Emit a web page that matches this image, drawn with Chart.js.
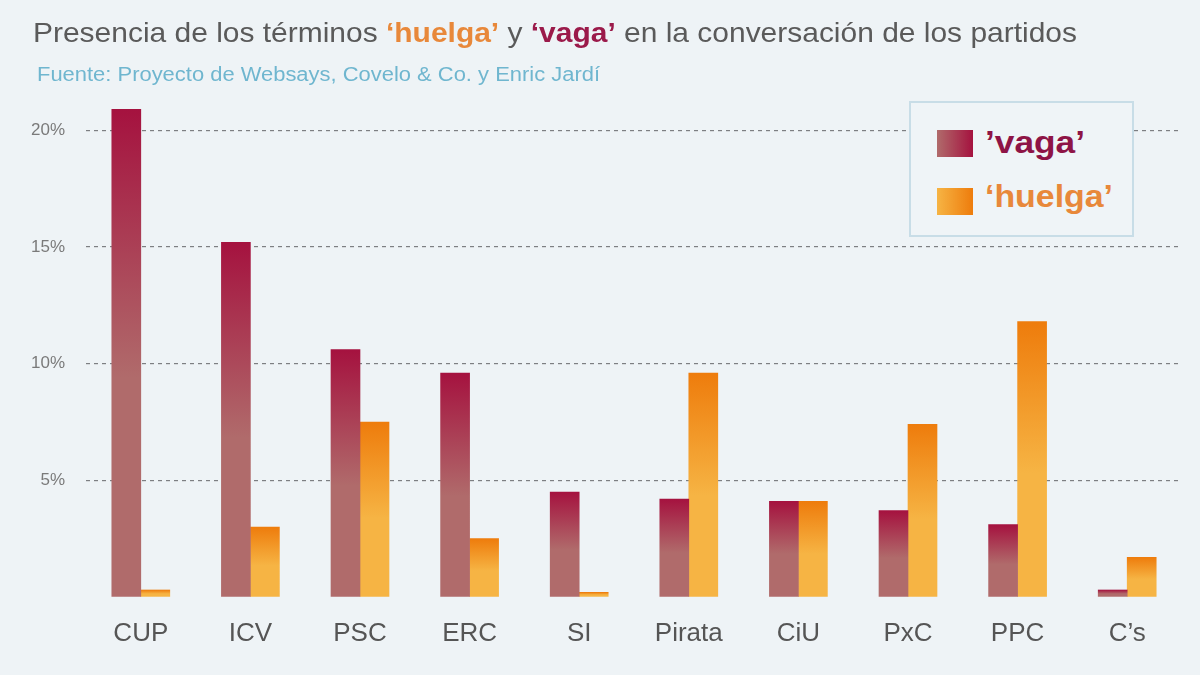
<!DOCTYPE html>
<html>
<head>
<meta charset="utf-8">
<script src="https://cdn.jsdelivr.net/npm/chart.js@4"></script>
<style>
  html, body { margin: 0; padding: 0; }
  body { width: 1200px; height: 675px; background: #eef3f6; font-family: "Liberation Sans", Arial, sans-serif; position: relative; overflow: hidden; }
  #wrap { position: absolute; left: 0; top: 0; width: 1200px; height: 675px; }
  #title { position: absolute; left: 33px; top: 19px; font-size: 28px; line-height: 1; color: #5a5a5a; white-space: nowrap; transform-origin: left top; }
  #title .h { color: #e8883a; font-weight: bold; }
  #title .v { color: #9b1a4a; font-weight: bold; }
  #source { position: absolute; left: 37px; top: 65px; font-size: 19.5px; line-height: 1; color: #6fb6cf; white-space: nowrap; transform-origin: left top; }
  #legend { position: absolute; left: 909px; top: 101px; width: 221px; height: 132px; border: 2px solid #c8dde7; background: #eff4f7; }
  .sw { position: absolute; left: 26px; width: 36px; height: 27px; }
  .lbl { position: absolute; left: 74px; font-size: 31px; line-height: 1; font-weight: bold; white-space: nowrap; transform-origin: left top; }
</style>
</head>
<body>
<div id="wrap"><canvas id="chart" width="1200" height="675"></canvas></div>
<div id="title">Presencia de los términos <span class="h">‘huelga’</span> y <span class="v">‘vaga’</span> en la conversación de los partidos</div>
<div id="source">Fuente: Proyecto de Websays, Covelo &amp; Co. y Enric Jardí</div>
<div id="legend"></div>
<script>
// Data (percent)
const parties = ['CUP', 'ICV', 'PSC', 'ERC', 'SI', 'Pirata', 'CiU', 'PxC', 'PPC', 'C’s'];
const vaga = [20.9, 15.2, 10.6, 9.6, 4.5, 4.2, 4.1, 3.7, 3.1, 0.3];
const huelga = [0.3, 3.0, 7.5, 2.5, 0.2, 9.6, 4.1, 7.4, 11.8, 1.7];
const yTicks = [5, 10, 15, 20];

const seriesLabels = ['’vaga’', '‘huelga’'];
const vagaTop = '#a5123f', vagaBottom = '#b06b6b';
const huelgaTop = '#ee7c0c', huelgaBottom = '#f6b444';
const textColors = ['#8e1446', '#e8883a'];

function barGradient(top, bottom) {
    return function(context) {
        const chart = context.chart;
        const yScale = chart.scales.y;
        if (!yScale || context.raw == null) return bottom;
        const yTop = yScale.getPixelForValue(context.raw);
        const yBase = yScale.getPixelForValue(0);
        if (!isFinite(yTop) || !isFinite(yBase) || yTop === yBase) return bottom;
        const g = chart.ctx.createLinearGradient(0, yTop, 0, yBase);
        g.addColorStop(0, top);
        g.addColorStop(0.55, bottom);
        g.addColorStop(1, bottom);
        return g;
    };
}

const ctx = document.getElementById('chart').getContext('2d');
const chart = new Chart(ctx, {
    type: 'bar',
    data: {
        labels: parties,
        datasets: [{
            label: seriesLabels[0],
            data: vaga,
            backgroundColor: barGradient(vagaTop, vagaBottom),
            barThickness: 29
        }, {
            label: seriesLabels[1],
            data: huelga,
            backgroundColor: barGradient(huelgaTop, huelgaBottom),
            barThickness: 29
        }]
    },
    options: {
        responsive: false,
        animation: false,
        layout: { padding: { top: 107, right: 18, left: 0, bottom: 0 } },
        scales: {
            x: {
                grid: { display: false },
                border: { display: false },
                ticks: {
                    color: '#555',
                    padding: 13,
                    font: { family: 'Liberation Sans', size: 26 }
                },
                afterFit: s => { s.height = 78; }
            },
            y: {
                min: 0,
                max: 21,
                afterBuildTicks: s => { s.ticks = [0].concat(yTicks).map(v => ({ value: v })); },
                afterFit: s => { s.width = 86; },
                grid: {
                    drawTicks: false,
                    color: c => (c.tick && c.tick.value > 0) ? '#7d7f82' : 'rgba(0,0,0,0)',
                    lineWidth: 1.2
                },
                border: { display: false, dash: [4, 4] },
                ticks: {
                    color: '#7a7a7a',
                    padding: 21,
                    font: { family: 'Liberation Sans', size: 17 },
                    callback: v => v > 0 ? v + '%' : ''
                }
            }
        },
        plugins: {
            legend: { display: false },
            tooltip: { enabled: false }
        }
    }
});

// stretch a text block sideways to the width it has in the picture
function fitWidth(el, target) {
    const w = el.getBoundingClientRect().width;
    if (w > 0) el.style.transform = 'scaleX(' + (target / w) + ')';
}

// HTML legend built from the dataset labels
const legend = document.getElementById('legend');
const swatches = [
    'linear-gradient(to right, ' + vagaBottom + ', ' + vagaTop + ')',
    'linear-gradient(to right, ' + huelgaBottom + ', ' + huelgaTop + ')'
];
const labelWidths = [100, 128];
seriesLabels.forEach((label, i) => {
    const sw = document.createElement('div');
    sw.className = 'sw';
    sw.style.top = (27 + i * 58) + 'px';
    sw.style.background = swatches[i];
    legend.appendChild(sw);
    const lbl = document.createElement('div');
    lbl.className = 'lbl';
    lbl.style.top = (24 + i * 54) + 'px';
    lbl.style.color = textColors[i];
    lbl.textContent = label;
    legend.appendChild(lbl);
    fitWidth(lbl, labelWidths[i]);
});

fitWidth(document.getElementById('title'), 1044);
fitWidth(document.getElementById('source'), 563);
</script>
</body>
</html>
